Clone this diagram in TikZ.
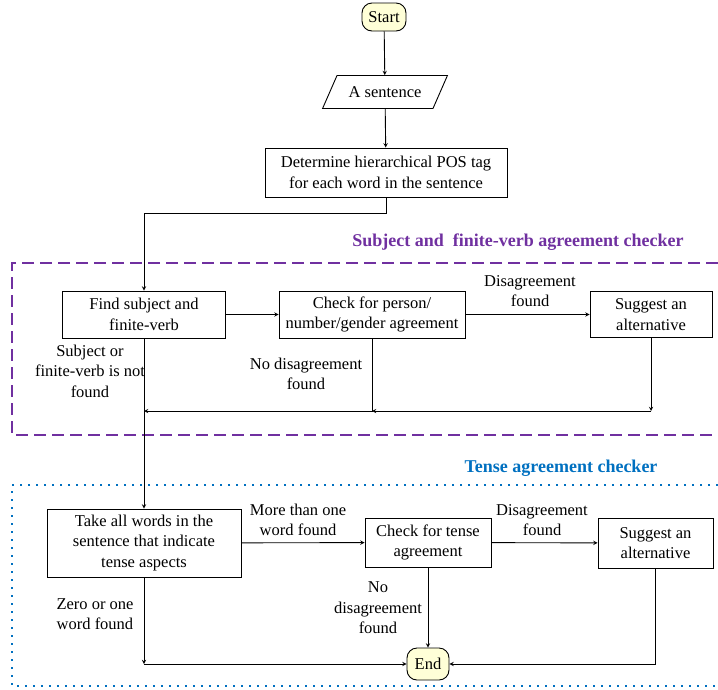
\documentclass[tikz,border=0pt]{standalone}
\usepackage{fontspec}
\setmainfont{Liberation Serif}
\usetikzlibrary{shapes,arrows,positioning,calc}

\definecolor{termfill}{RGB}{255,255,215}
\definecolor{grpone}{RGB}{112,48,160}
\definecolor{grptwo}{RGB}{0,112,192}

\begin{document}
\begin{tikzpicture}[
  x=1pt, y=-1pt,
  box/.style={
    draw, rectangle, align=center, inner sep=2pt,
    font=\fontsize{16.5}{20.5}\selectfont, line width=0.9pt
  },
  term/.style={box, rounded corners=10pt, fill=termfill},
  iobox/.style={
    draw, trapezium, trapezium left angle=56, trapezium right angle=124,
    trapezium stretches=true, align=center, line width=0.9pt,
    font=\fontsize{16.5}{20.5}\selectfont
  },
  lbl/.style={align=center, font=\fontsize{16.5}{20.5}\selectfont, inner sep=0pt},
  ttl/.style={font=\fontsize{18}{21}\selectfont\bfseries, inner sep=0pt},
  arrow/.style={->, >=stealth, line width=0.9pt}
]
\useasboundingbox (0,0) rectangle (718,689);

% Input part
\node[term, minimum width=44pt, minimum height=28pt] (start) at (384,17) {Start};
\node[iobox, minimum width=125pt, minimum height=33pt] (sent) at (385,92) {A sentence};
\node[box, minimum width=242pt, minimum height=49pt] (det) at (386,172.5)
  {Determine hierarchical POS tag\\for each word in the sentence};

% Subject and finite-verb agreement checker
\node[ttl, text=grpone] (ttlone) at (518,242) {Subject and\ \ finite-verb agreement checker};
\draw[grpone, line width=1.6pt, dash pattern=on 12pt off 6pt]
  (718,263) -- (12,263) -- (12,435) -- (718,435);

\node[box, minimum width=163pt, minimum height=47pt] (find) at (144,314.5)
  {Find subject and\\finite-verb};
\node[box, minimum width=186pt, minimum height=47pt] (chkone) at (372,314.5)
  {Check for person/\\number/gender agreement};
\node[box, minimum width=122pt, minimum height=46pt] (sugone) at (651,314.5)
  {Suggest an\\alternative};

\node[lbl] (notfound) at (90,371) {Subject or\\finite-verb is not\\found};
\node[lbl] (nodisone) at (306,374) {No disagreement\\found};
\node[lbl] (disone) at (530,291) {Disagreement\\found};

\coordinate (retone) at (0,411);

% Tense agreement checker
\node[ttl, text=grptwo] (ttltwo) at (561,468) {Tense agreement checker};
\draw[grptwo, line width=1.6pt, dash pattern=on 1.6pt off 6.4pt]
  (718,485) -- (12,485) -- (12,686) -- (718,686);

\node[box, minimum width=194pt, minimum height=68pt] (take) at (144,543)
  {Take all words in the\\sentence that indicate\\tense aspects};
\node[box, minimum width=126pt, minimum height=49pt] (chktwo) at (428,542.5)
  {Check for tense\\agreement};
\node[box, minimum width=115pt, minimum height=50pt] (sugtwo) at (655.5,543)
  {Suggest an\\alternative};
\node[term, minimum width=42pt, minimum height=32pt] (endn) at (428,664) {End};

\node[lbl] (morethan) at (298,520) {More than one\\word found};
\node[lbl] (distwo) at (542,520) {Disagreement\\found};
\node[lbl] (nodistwo) at (378,608) {No\\disagreement\\found};
\node[lbl] (zeroone) at (95,614) {Zero or one\\word found};

% Connectors
\draw[arrow] (start) -- (sent);
\draw[arrow] (sent) -- (det);
\draw[arrow] (det.south) -- ++(0,16) -| (find.north);
\draw[arrow] (find) -- (chkone);
\draw[arrow] (chkone) -- (sugone);
\draw[arrow] (sugone.south) -- (sugone.south |- retone);
\draw[arrow] (sugone.south |- retone) -- (chkone.south |- retone);
\draw[arrow] (chkone.south) -- (chkone.south |- retone) -- (find.south |- retone);
\draw[arrow] (find.south) -- (take.north);
\draw[arrow] (take) -- (chktwo);
\draw[arrow] (chktwo) -- (sugtwo);
\draw[arrow] (chktwo) -- (endn);
\draw[arrow] (sugtwo.south) |- (endn.east);
\draw[arrow] (take.south) -- (take.south |- endn);
\draw[arrow] (take.south |- endn) -- (endn.west);

\end{tikzpicture}
\end{document}
